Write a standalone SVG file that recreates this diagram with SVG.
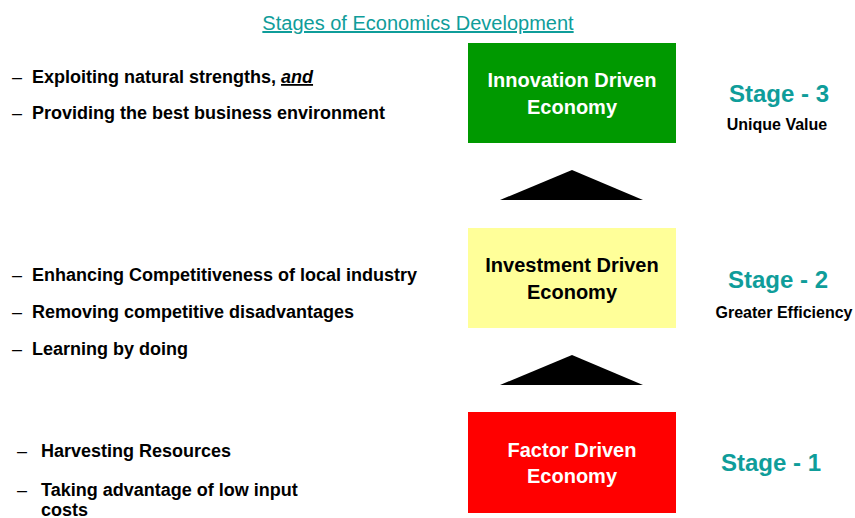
<svg xmlns="http://www.w3.org/2000/svg" width="855" height="518" viewBox="0 0 855 518">
  <style>
    text { font-family: "Liberation Sans", Arial, sans-serif; }
    .title { font-size: 20px; fill: #0f9d9a; text-decoration: underline; }
    .bullet { font-size: 18px; font-weight: bold; fill: #000; }
    .dash { font-size: 18px; fill: #000; }
    .box-label { font-size: 20px; font-weight: bold; text-anchor: middle; }
    .stage { font-size: 24px; font-weight: bold; fill: #0f9d9a; text-anchor: middle; }
    .sub { font-size: 16px; font-weight: bold; fill: #000; text-anchor: middle; }
    .arrow { fill: #000; }
  </style>

  <rect width="855" height="518" fill="#fff"/>

  <text class="title" x="418" y="30" text-anchor="middle">Stages of Economics Development</text>

  <!-- stage 3 -->
  <g id="innovation">
    <rect x="468" y="43" width="208" height="100" fill="#009900"/>
    <text class="box-label" x="572" y="87" fill="#fff">Innovation Driven</text>
    <text class="box-label" x="572" y="114" fill="#fff">Economy</text>
  </g>
  <g id="stage3">
    <text class="stage" x="779" y="102">Stage - 3</text>
    <text class="sub" x="777" y="130">Unique Value</text>
  </g>
  <g id="notes3">
    <text class="dash" x="12" y="83">–</text>
    <text class="bullet" x="32" y="83">Exploiting natural strengths, <tspan font-style="italic" text-decoration="underline">and</tspan></text>
    <text class="dash" x="12" y="119">–</text>
    <text class="bullet" x="32" y="119">Providing the best business environment</text>
  </g>

  <!-- stage 2 -->
  <g id="investment">
    <rect x="468" y="228" width="208" height="100" fill="#ffff99"/>
    <text class="box-label" x="572" y="272" fill="#000">Investment Driven</text>
    <text class="box-label" x="572" y="299" fill="#000">Economy</text>
  </g>
  <g id="stage2">
    <text class="stage" x="778" y="288">Stage - 2</text>
    <text class="sub" x="784" y="318">Greater Efficiency</text>
  </g>
  <g id="notes2">
    <text class="dash" x="12" y="281">–</text>
    <text class="bullet" x="32" y="281">Enhancing Competitiveness of local industry</text>
    <text class="dash" x="12" y="318">–</text>
    <text class="bullet" x="32" y="318">Removing competitive disadvantages</text>
    <text class="dash" x="12" y="355">–</text>
    <text class="bullet" x="32" y="355">Learning by doing</text>
  </g>

  <!-- stage 1 -->
  <g id="factor">
    <rect x="468" y="412" width="208" height="101" fill="#ff0000"/>
    <text class="box-label" x="572" y="457" fill="#fff">Factor Driven</text>
    <text class="box-label" x="572" y="483" fill="#fff">Economy</text>
  </g>
  <g id="stage1">
    <text class="stage" x="771" y="471">Stage - 1</text>
  </g>
  <g id="notes1">
    <text class="dash" x="17" y="457">–</text>
    <text class="bullet" x="41" y="457">Harvesting Resources</text>
    <text class="dash" x="17" y="496">–</text>
    <text class="bullet" x="41" y="496">Taking advantage of low input</text>
    <text class="bullet" x="41" y="516">costs</text>
  </g>

  <!-- upward arrows between stages -->
  <g id="connectors">
    <polygon class="arrow" points="500,200 572,170 643,200"/>
    <polygon class="arrow" points="500,385 572,355 643,385"/>
  </g>
</svg>
